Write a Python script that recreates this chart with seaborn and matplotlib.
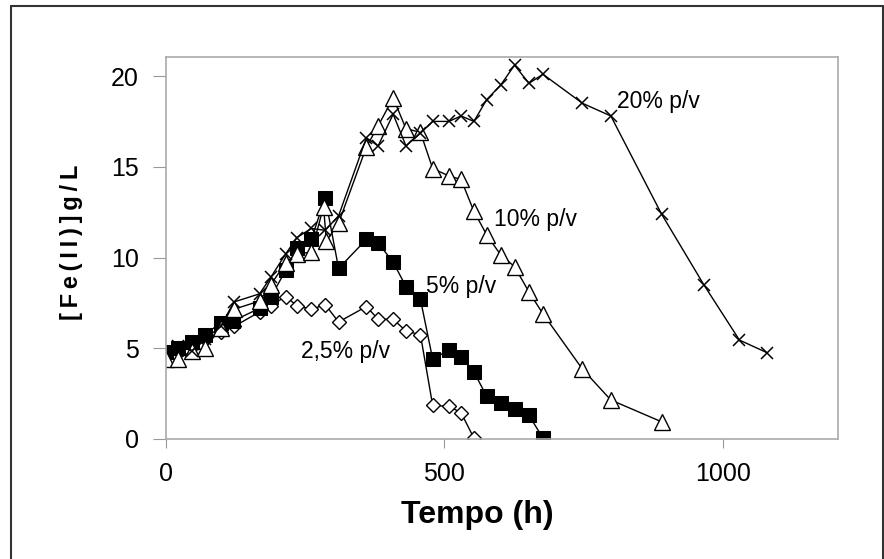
import pandas as pd
import numpy as np
import matplotlib.pyplot as plt
import seaborn as sns
from matplotlib.lines import Line2D

# valores
t_25 = [0, 22, 46, 70, 98, 122, 168, 188, 215, 235, 261, 286, 310, 360, 381, 408, 431, 457, 479, 508, 530, 553]
fe_25 = [4.8, 5.0, 5.2, 5.5, 5.9, 6.2, 7.0, 7.35, 7.85, 7.35, 7.15, 7.4, 6.45, 7.3, 6.6, 6.6, 5.95, 5.75, 1.85, 1.8, 1.45, 0.05]

t_5 = [0, 22, 46, 70, 98, 120, 168, 188, 215, 235, 261, 286, 310, 360, 381, 408, 431, 457, 479, 508, 530, 553, 576, 601, 626, 652, 677]
fe_5 = [4.8, 5.0, 5.35, 5.75, 6.4, 6.5, 7.2, 7.8, 9.3, 10.55, 11.0, 13.3, 9.4, 11.0, 10.8, 9.75, 8.4, 7.7, 4.4, 4.9, 4.5, 3.7, 2.35, 2.0, 1.65, 1.3, 0.05]

t_10 = [0, 22, 46, 70, 98, 122, 168, 188, 215, 235, 261, 283, 288, 310, 360, 381, 408, 431, 457, 479, 508, 530, 553, 576, 601, 626, 652, 677, 748, 799, 890]
fe_10 = [4.4, 4.4, 4.85, 5.0, 6.1, 7.15, 7.6, 8.5, 9.7, 10.2, 10.3, 12.8, 10.9, 11.9, 16.1, 17.25, 18.8, 17.1, 16.9, 14.9, 14.5, 14.3, 12.55, 11.25, 10.15, 9.5, 8.1, 6.9, 3.85, 2.15, 0.95]

t_20 = [0, 22, 46, 70, 98, 122, 168, 188, 215, 235, 261, 286, 310, 360, 381, 408, 431, 457, 479, 508, 530, 553, 576, 601, 626, 652, 677, 748, 799, 890, 966, 1030, 1080]
fe_20 = [4.85, 5.15, 4.85, 5.5, 6.2, 7.55, 8.0, 8.9, 10.2, 11.1, 11.6, 11.5, 12.3, 16.6, 16.15, 17.9, 16.15, 16.85, 17.5, 17.5, 17.8, 17.5, 18.7, 19.5, 20.6, 19.6, 20.1, 18.5, 17.8, 12.4, 8.5, 5.45, 4.75]

rotulos = ["2,5% p/v", "5% p/v", "10% p/v", "20% p/v"]
pos_rotulos = [(242, 4.8), (467, 8.4), (590, 12.1), (810, 18.6)]

sns.set_style("white")
plt.rcParams['font.family'] = ['Liberation Sans', 'DejaVu Sans']
plt.rcParams['text.color'] = 'black'
plt.rcParams['axes.labelcolor'] = 'black'
plt.rcParams['xtick.color'] = 'black'
plt.rcParams['ytick.color'] = 'black'

fig = plt.figure(figsize=(8.84, 5.59), dpi=100)
ax = fig.add_axes([166 / 884, 1 - 439 / 559, 672 / 884, 382 / 559])

series = [
    (t_25, fe_25, dict(marker="D", markersize=7.5, markerfacecolor="white", markeredgecolor="black", markeredgewidth=1)),
    (t_5, fe_5, dict(marker="s", markersize=10.5, markerfacecolor="black", markeredgecolor="black")),
    (t_10, fe_10, dict(marker="^", markersize=11, markerfacecolor="white", markeredgecolor="black", markeredgewidth=1)),
    (t_20, fe_20, dict(marker="x", markersize=9, markeredgecolor="black", markeredgewidth=1.1)),
]
for t, fe, estilo in series:
    df = pd.DataFrame({"t": t, "fe": fe})
    sns.lineplot(data=df, x="t", y="fe", ax=ax, color="black", linewidth=1, sort=False, **estilo)

for txt, (x, y) in zip(rotulos, pos_rotulos):
    ax.text(x, y, txt, fontsize=16.5, va="center", ha="left")

ax.set_xlim(0, 1207)
ax.set_ylim(0, 21.05)
ax.set_xticks([0, 500, 1000])
ax.set_yticks([0, 5, 10, 15, 20])
ax.tick_params(axis="both", labelsize=18, direction="out", bottom=True, left=True, color="#999999")
ax.tick_params(axis="y", length=9.5, pad=10)
ax.tick_params(axis="x", length=6.5, pad=10)
for s in ax.spines.values():
    s.set_color("#aaaaaa")
    s.set_linewidth(1.2)
ax.set_xlabel("Tempo (h)", fontsize=23, fontweight="bold")
ax.xaxis.set_label_coords(0.464, -0.16)
ax.set_ylabel("\u2009".join("[Fe(II)]g/L"), fontsize=17, fontweight="bold")
ax.yaxis.set_label_coords(-0.1235, 0.514)

# moldura externa
for xs, ys in [([11, 11], [6, 562]), ([11, 883], [6, 6]), ([883, 883], [6, 562])]:
    fig.add_artist(Line2D([x / 884 for x in xs], [1 - y / 559 for y in ys], transform=fig.transFigure,
                          color="#333333", linewidth=1.5))

fig.savefig("out.png", dpi=100)
